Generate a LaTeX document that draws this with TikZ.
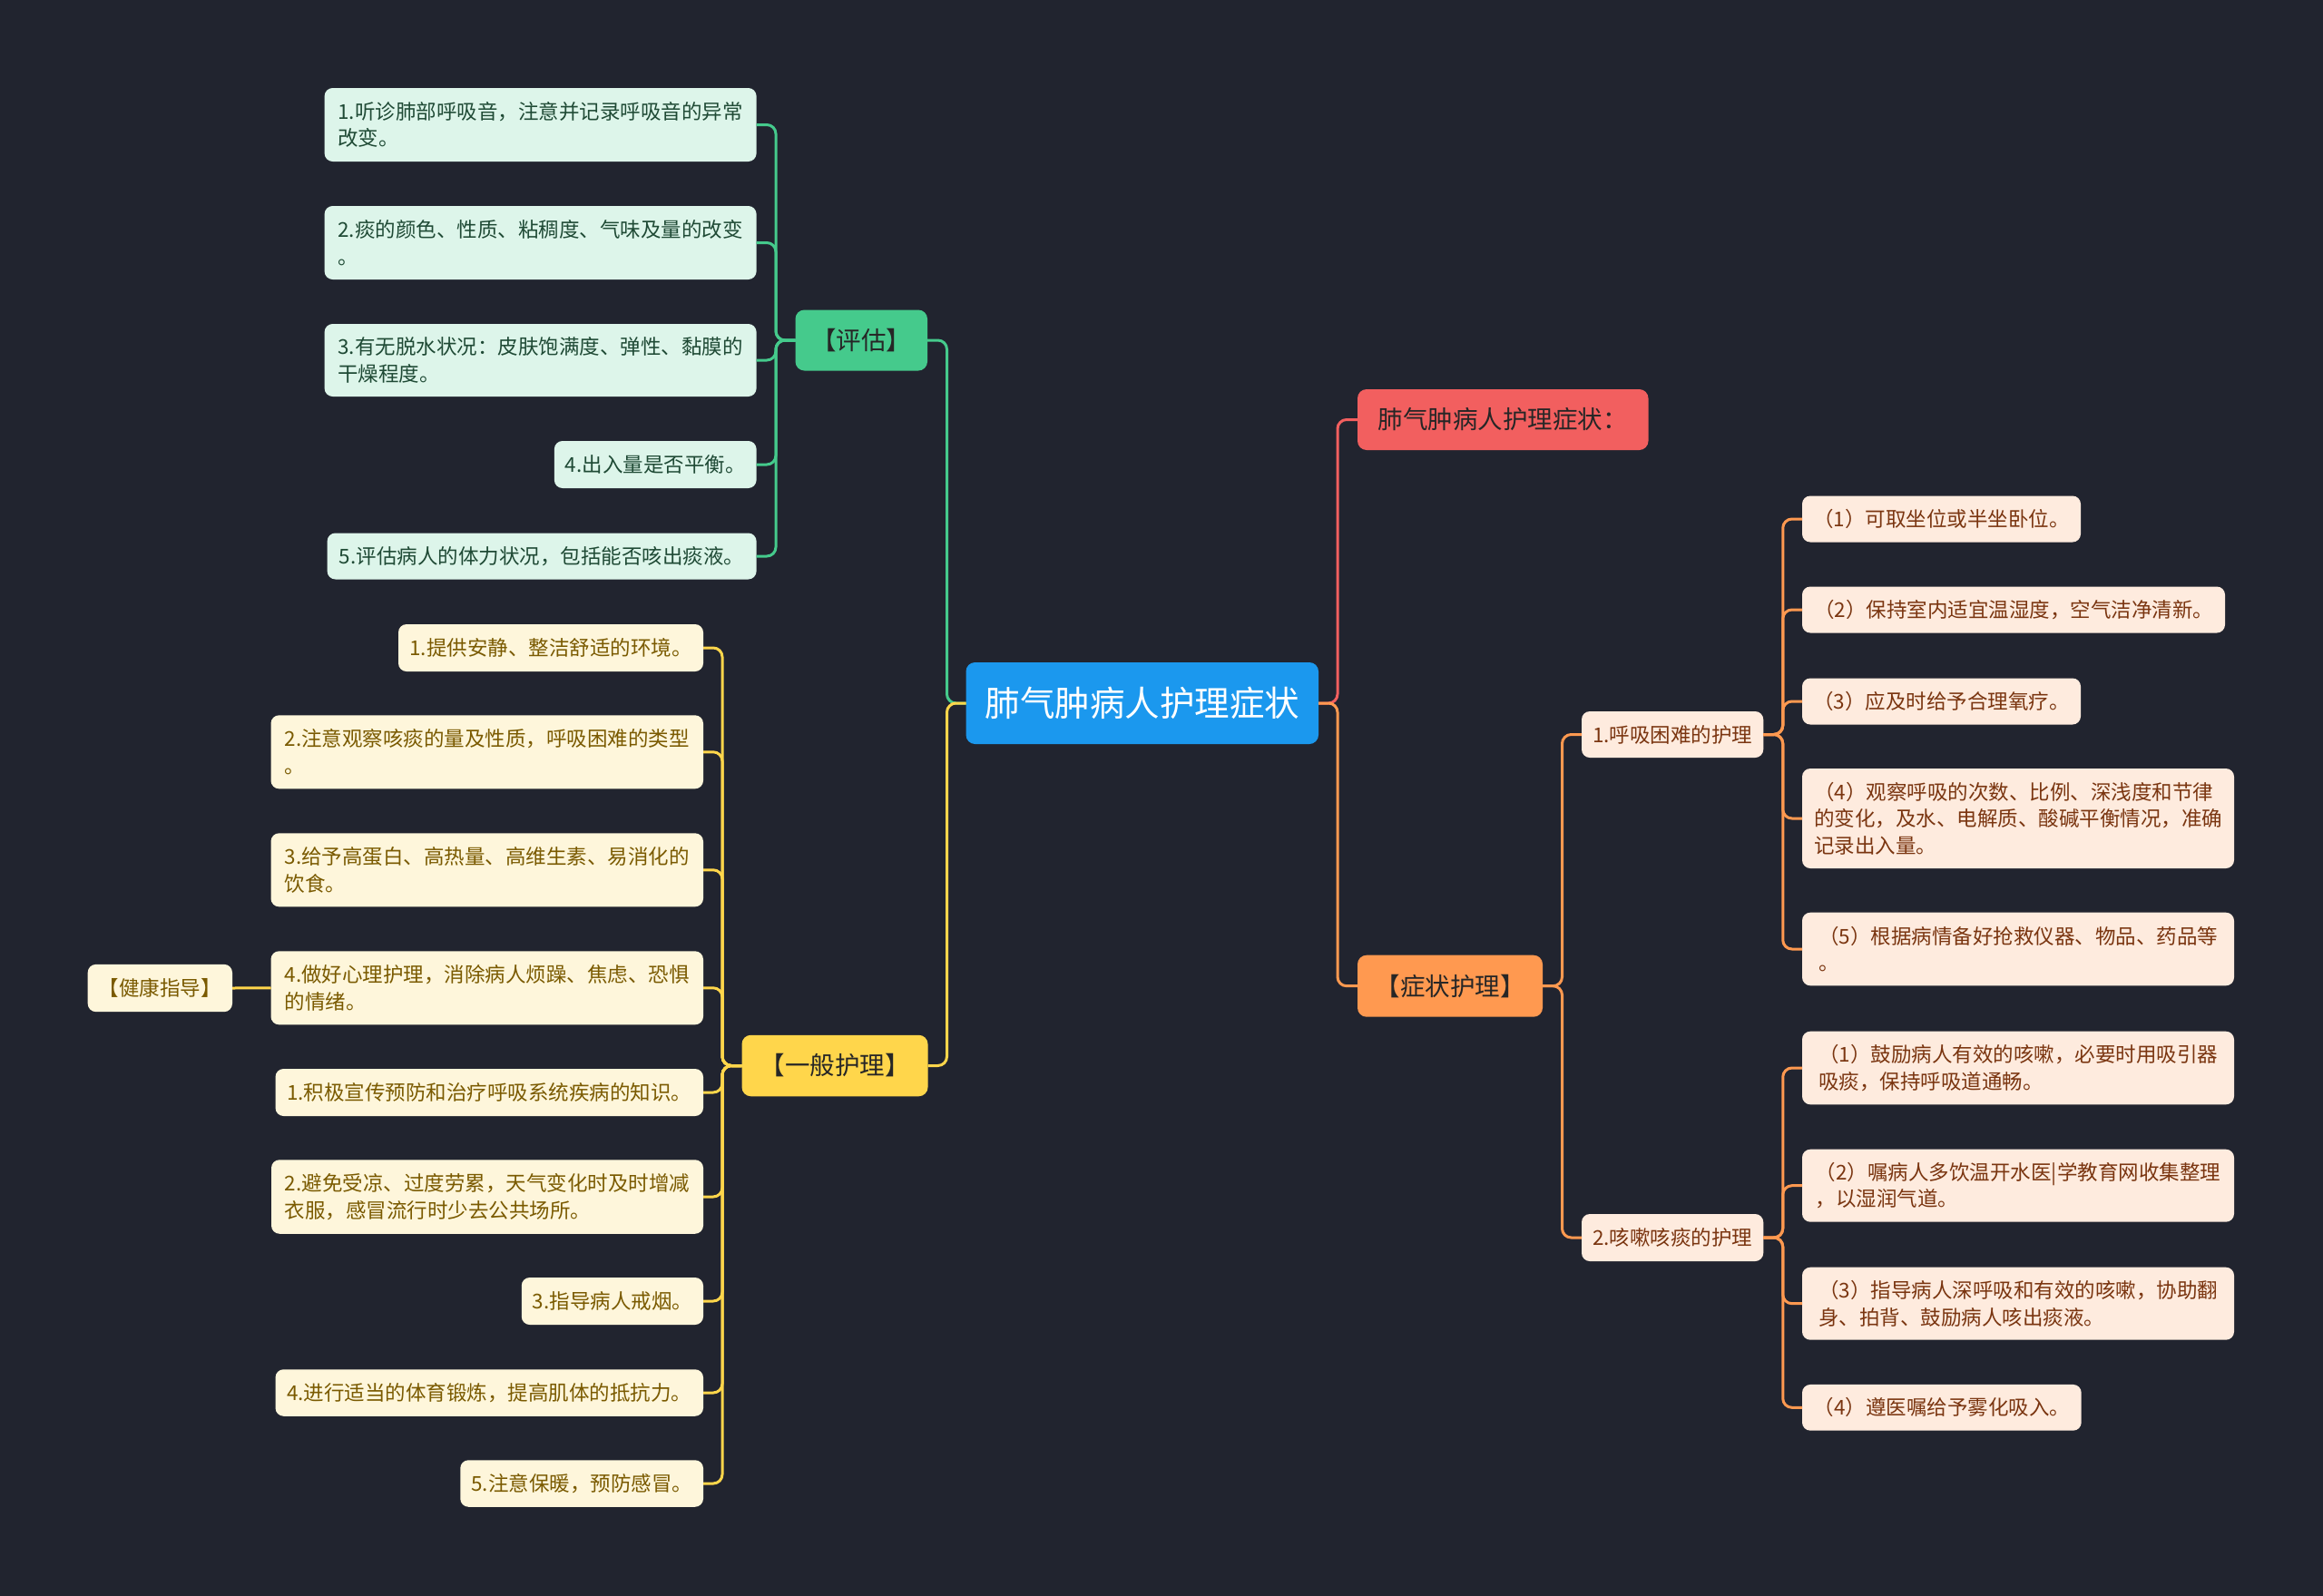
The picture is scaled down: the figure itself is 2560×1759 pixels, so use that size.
\documentclass[tikz,border=0pt]{standalone}
\usepackage{fontspec}
\setmainfont{Noto Sans CJK SC}
\usetikzlibrary{calc}
\definecolor{bgc}{HTML}{21242F}
\definecolor{rootc}{HTML}{1B98EE}
\definecolor{redc}{HTML}{F25F5F}
\definecolor{orangec}{HTML}{FF9950}
\definecolor{greenc}{HTML}{45CA8C}
\definecolor{yellowc}{HTML}{FFD64B}
\definecolor{gfill}{HTML}{DDF5EA}
\definecolor{gtext}{HTML}{1F4A35}
\definecolor{yfill}{HTML}{FEF6DB}
\definecolor{ytext}{HTML}{7A5A00}
\definecolor{ofill}{HTML}{FEEBDE}
\definecolor{otext}{HTML}{7A3510}
\definecolor{dtext}{HTML}{262626}
\begin{document}
\begin{tikzpicture}[x=1pt,y=-1pt,
  box/.style={rounded corners=9pt, inner xsep=12pt, inner ysep=0pt, outer sep=0pt, align=left},
  leaffont/.style={font=\fontsize{22.5pt}{29.5pt}\selectfont},
  gleaf/.style={box, leaffont, fill=gfill, text=gtext, anchor=east},
  yleaf/.style={box, leaffont, fill=yfill, text=ytext, anchor=east},
  oleaf/.style={box, leaffont, fill=ofill, text=otext, anchor=west},
  mainbox/.style={box, rounded corners=10pt, align=center, text=dtext, font=\fontsize{27.5pt}{33pt}\selectfont},
  link/.style={line width=3pt, rounded corners=10pt},
  gl/.style={link, draw=greenc},
  yl/.style={link, draw=yellowc},
  rl/.style={link, draw=redc},
  ol/.style={link, draw=orangec}
]
\fill[bgc] (0,0) rectangle (2560,1759);
\useasboundingbox (0,0) rectangle (2560,1759);

% root
\node[box, rounded corners=10pt, fill=rootc, text=white, align=center, minimum width=388.5pt, minimum height=90pt, font=\fontsize{38.5pt}{44pt}\selectfont] (root) at (1258.75,775) {肺气肿病人护理症状};

% main branches
\node[mainbox, fill=greenc, minimum width=145.5pt, minimum height=67pt] (eval) at (949.25,375) {【评估】};
\node[mainbox, fill=yellowc, minimum width=205pt, minimum height=67.5pt] (gen) at (920,1174.5) {【一般护理】};
\node[mainbox, fill=redc, minimum width=320.5pt, minimum height=67pt] (sym) at (1656.25,462.5) {肺气肿病人护理症状：};
\node[mainbox, fill=orangec, minimum width=204pt, minimum height=68pt] (care) at (1598,1086.7) {【症状护理】};

% green leaves
\node[gleaf, minimum width=476pt, minimum height=81pt] (g1) at (833.6,137.5) {1.听诊肺部呼吸音，注意并记录呼吸音的异常\\改变。};
\node[gleaf, minimum width=476pt, minimum height=81pt] (g2) at (833.6,267.5) {2.痰的颜色、性质、粘稠度、气味及量的改变\\。};
\node[gleaf, minimum width=476pt, minimum height=80pt] (g3) at (833.6,397) {3.有无脱水状况：皮肤饱满度、弹性、黏膜的\\干燥程度。};
\node[gleaf, minimum width=222.6pt, minimum height=52pt] (g4) at (833.6,512) {4.出入量是否平衡。};
\node[gleaf, minimum width=473pt, minimum height=51pt] (g5) at (833.6,613) {5.评估病人的体力状况，包括能否咳出痰液。};

% yellow leaves
\node[yleaf, minimum width=336pt, minimum height=52pt] (y1) at (775,714) {1.提供安静、整洁舒适的环境。};
\node[yleaf, minimum width=476.5pt, minimum height=81pt] (y2) at (775,828.8) {2.注意观察咳痰的量及性质，呼吸困难的类型\\。};
\node[yleaf, minimum width=476.5pt, minimum height=81pt] (y3) at (775,958.8) {3.给予高蛋白、高热量、高维生素、易消化的\\饮食。};
\node[yleaf, minimum width=476.5pt, minimum height=81pt] (y4) at (775,1088.8) {4.做好心理护理，消除病人烦躁、焦虑、恐惧\\的情绪。};
\node[yleaf, minimum width=471.5pt, minimum height=52pt] (y5) at (775,1204) {1.积极宣传预防和治疗呼吸系统疾病的知识。};
\node[yleaf, minimum width=476pt, minimum height=81.5pt] (y6) at (775,1319) {2.避免受凉、过度劳累，天气变化时及时增减\\衣服，感冒流行时少去公共场所。};
\node[yleaf, minimum width=199pt, minimum height=52pt] (y7) at (775,1434) {3.指导病人戒烟。};
\node[yleaf, minimum width=471.5pt, minimum height=51.5pt] (y8) at (775,1535) {4.进行适当的体育锻炼，提高肌体的抵抗力。};
\node[yleaf, minimum width=267.7pt, minimum height=51.5pt] (y9) at (775,1635) {5.注意保暖，预防感冒。};
\node[yleaf, minimum width=159.3pt, minimum height=52.3pt] (jk) at (256,1089) {【健康指导】};

% orange sub-branches
\node[oleaf, minimum width=200pt, minimum height=51pt] (b1) at (1743,809.5) {1.呼吸困难的护理};
\node[oleaf, minimum width=200pt, minimum height=52pt] (b2) at (1743,1364) {2.咳嗽咳痰的护理};

% orange leaves
\node[oleaf, minimum width=307pt, minimum height=51pt] (r1) at (1986,572) {（1）可取坐位或半坐卧位。};
\node[oleaf, minimum width=466pt, minimum height=51pt] (r2) at (1986,672) {（2）保持室内适宜温湿度，空气洁净清新。};
\node[oleaf, minimum width=307pt, minimum height=51pt] (r3) at (1986,773) {（3）应及时给予合理氧疗。};
\node[oleaf, minimum width=476pt, minimum height=110pt] (r4) at (1986,902) {（4）观察呼吸的次数、比例、深浅度和节律\\的变化，及水、电解质、酸碱平衡情况，准确\\记录出入量。};
\node[oleaf, minimum width=476pt, minimum height=80.6pt] (r5) at (1986,1046) {（5）根据病情备好抢救仪器、物品、药品等\\。};
\node[oleaf, minimum width=476pt, minimum height=80.6pt] (s1) at (1986,1177) {（1）鼓励病人有效的咳嗽，必要时用吸引器\\吸痰，保持呼吸道通畅。};
\node[oleaf, minimum width=476pt, minimum height=80pt] (s2) at (1986,1306.7) {（2）嘱病人多饮温开水医|学教育网收集整理\\，以湿润气道。};
\node[oleaf, minimum width=476pt, minimum height=80pt] (s3) at (1986,1436.7) {（3）指导病人深呼吸和有效的咳嗽，协助翻\\身、拍背、鼓励病人咳出痰液。};
\node[oleaf, minimum width=307.7pt, minimum height=50.7pt] (s4) at (1986,1551.3) {（4）遵医嘱给予雾化吸入。};

% connectors: root
\draw[gl] (root.west) -- ([xshift=-21pt]root.west) |- (eval.east);
\draw[yl] (root.west) -- ([xshift=-21pt]root.west) |- (gen.east);
\draw[rl] (root.east) -- ([xshift=21pt]root.east) |- (sym.west);
\draw[ol] (root.east) -- ([xshift=21pt]root.east) |- (care.west);

% green
\foreach \c in {g1,g2,g3,g4,g5}
  \draw[gl] (eval.west) -- ([xshift=-21.5pt]eval.west) |- (\c.east);
% yellow
\foreach \c in {y1,y2,y3,y4,y5,y6,y7,y8,y9}
  \draw[yl] (gen.west) -- ([xshift=-21.5pt]gen.west) |- (\c.east);
\draw[yl] (y4.west) -- (jk.east);
% orange
\foreach \c in {b1,b2}
  \draw[ol] (care.east) -- ([xshift=21.5pt]care.east) |- (\c.west);
\foreach \c in {r1,r2,r3,r4,r5}
  \draw[ol] (b1.east) -- ([xshift=21.5pt]b1.east) |- (\c.west);
\foreach \c in {s1,s2,s3,s4}
  \draw[ol] (b2.east) -- ([xshift=21.5pt]b2.east) |- (\c.west);
\end{tikzpicture}
\end{document}
